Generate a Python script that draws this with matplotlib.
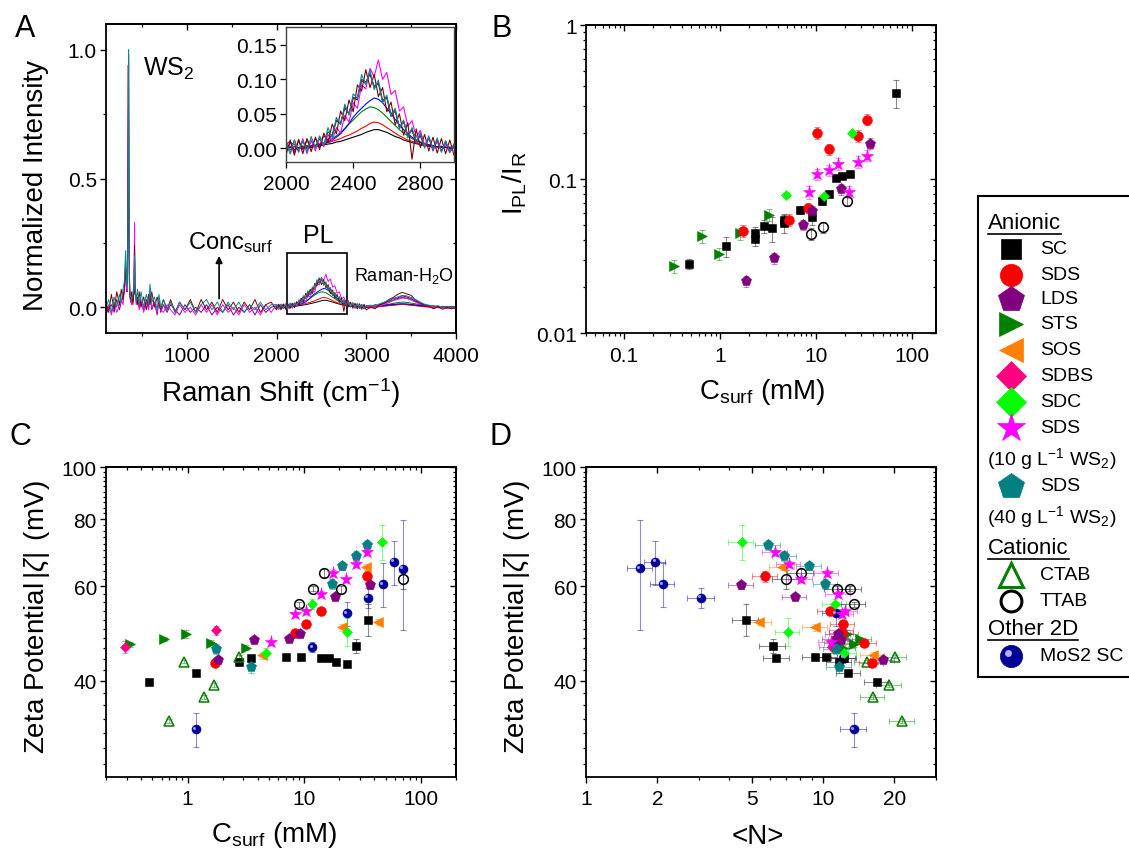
import numpy as np
import matplotlib
matplotlib.use('Agg')
import matplotlib.pyplot as plt
from matplotlib.ticker import FixedLocator, FuncFormatter, NullFormatter
from matplotlib.patches import Rectangle
from matplotlib.transforms import ScaledTranslation

plt.rcParams['font.family'] = ['Liberation Sans', 'DejaVu Sans']
plt.rcParams['mathtext.fontset'] = 'custom'
plt.rcParams['mathtext.rm'] = 'Liberation Sans'
plt.rcParams['mathtext.it'] = 'Liberation Sans:italic'
plt.rcParams['mathtext.bf'] = 'Liberation Sans:bold'

# ---------------- PANEL A : Raman spectra ----------------
shift_low = [100, 130, 160, 190, 220, 250, 270, 290, 305, 318, 326, 334, 342, 348, 352, 356, 360, 366, 374, 386,
             400, 412, 418, 424, 436, 450, 470, 490, 520, 550, 575, 590, 610, 640, 670, 690, 710, 740, 780, 820,
             870, 920, 980, 1040, 1100, 1160, 1220, 1280, 1340, 1400, 1460, 1520, 1580, 1640, 1700, 1760, 1820, 1880, 1940]
shift_pl = list(range(2000, 3001, 25))
shift_h2o = list(range(3050, 4001, 50))

teal_low = [0.00, 0.03, -0.02, 0.04, 0.00, 0.05, 0.02, 0.07, 0.10, 0.22, 0.12, 0.08, 0.20, 0.60, 1.00, 0.55, 0.15, 0.06, 0.04, 0.03,
            0.05, 0.08, 0.20, 0.07, 0.02, 0.07, 0.01, 0.06, 0.00, 0.05, 0.01, 0.09, 0.02, 0.04, -0.01, 0.05, 0.00, 0.03, -0.01, 0.02,
            -0.02, 0.02, -0.01, 0.02, -0.02, 0.01, 0.03, -0.01, 0.02, -0.02, 0.02, -0.01, 0.02, -0.02, 0.01, -0.01, 0.02, -0.01, 0.01]
darkred_low = [0.02, -0.02, 0.05, -0.01, 0.06, 0.01, 0.07, 0.03, 0.08, 0.15, 0.10, 0.09, 0.30, 0.94, 0.70, 0.30, 0.10, 0.05, 0.03, 0.06,
               0.01, 0.06, 0.24, 0.05, 0.05, 0.01, 0.06, 0.00, 0.04, -0.01, 0.05, 0.01, 0.06, 0.00, 0.04, 0.01, -0.01, 0.03, -0.01, 0.03,
               -0.02, 0.02, -0.01, 0.03, -0.02, 0.03, -0.01, 0.02, -0.02, 0.03, -0.01, 0.02, -0.02, 0.02, -0.01, 0.03, -0.02, 0.01, 0.02]
magenta_low = [-0.02, 0.01, -0.03, 0.02, -0.02, 0.01, 0.03, 0.01, 0.07, 0.12, 0.09, 0.07, 0.25, 0.85, 0.95, 0.40, 0.12, 0.04, 0.03, 0.01,
               0.05, 0.10, 0.33, 0.08, 0.01, 0.03, -0.01, 0.03, -0.02, 0.02, -0.01, 0.05, 0.00, 0.02, -0.02, 0.02, -0.01, -0.02, 0.01, -0.01,
               -0.03, 0.01, -0.02, 0.00, -0.03, 0.01, -0.02, 0.01, -0.03, 0.01, -0.02, 0.00, -0.03, 0.01, -0.02, 0.00, -0.03, 0.01, -0.02]
purple_low = [-0.03, 0.00, 0.01, -0.02, 0.03, -0.01, 0.02, 0.04, 0.06, 0.18, 0.08, 0.06, 0.22, 0.70, 0.98, 0.50, 0.14, 0.05, 0.02, 0.03,
              0.02, 0.07, 0.22, 0.06, 0.03, 0.04, 0.00, 0.02, -0.01, 0.03, 0.00, 0.06, -0.01, 0.02, -0.03, 0.03, -0.02, 0.01, -0.02, 0.01,
              -0.01, -0.03, 0.01, -0.02, 0.00, -0.02, 0.01, -0.03, 0.00, -0.02, 0.01, -0.03, 0.00, -0.02, 0.01, -0.03, 0.01, -0.02, 0.00]

teal_pl = [0.010, -0.008, 0.012, -0.005, 0.012, -0.006, 0.017, 0.000, 0.018, 0.004, 0.030, 0.015, 0.045, 0.034, 0.064,
           0.048, 0.079, 0.072, 0.107, 0.092, 0.114, 0.085, 0.099, 0.066, 0.077, 0.047, 0.058, 0.028, 0.041, 0.015,
           0.030, 0.008, 0.023, 0.000, 0.018, -0.002, 0.015, -0.006, 0.011, -0.006, 0.006]
darkred_pl = [-0.010, 0.012, -0.010, 0.013, -0.008, 0.014, -0.005, 0.016, -0.002, 0.022, 0.008, 0.035, 0.021, 0.054, 0.040,
              0.070, 0.053, 0.092, 0.083, 0.114, 0.088, 0.107, 0.075, 0.088, 0.053, 0.067, 0.034, 0.050, 0.019, 0.037,
              -0.016, 0.028, 0.001, 0.020, -0.004, 0.016, -0.007, 0.014, -0.008, 0.012, -0.010]
purple_pl = [0.006, 0.010, -0.006, 0.011, -0.002, 0.012, 0.001, 0.014, 0.004, 0.018, 0.012, 0.020, 0.041, 0.036, 0.060,
             0.050, 0.074, 0.070, 0.100, 0.096, 0.108, 0.090, 0.095, 0.070, 0.073, 0.050, 0.055, 0.030, 0.040, 0.018,
             0.028, 0.006, 0.020, 0.002, 0.016, -0.004, 0.013, -0.004, 0.010, -0.006, 0.006]
gray_pl = [-0.006, 0.008, 0.006, -0.004, 0.010, 0.000, 0.011, 0.002, 0.014, 0.004, 0.024, 0.018, 0.040, 0.036, 0.058,
           0.050, 0.072, 0.074, 0.098, 0.094, 0.108, 0.088, 0.094, 0.068, 0.074, 0.046, 0.054, 0.030, 0.038, 0.018,
           0.026, 0.010, 0.018, 0.002, 0.014, 0.000, 0.010, -0.004, 0.008, -0.004, 0.004]
magenta_pl = [0.010, -0.008, 0.012, -0.006, 0.014, -0.008, 0.012, -0.004, 0.016, 0.002, 0.020, 0.010, 0.030, 0.022, 0.048,
              0.038, 0.066, 0.058, 0.092, 0.086, 0.116, 0.104, 0.128, 0.100, 0.110, 0.078, 0.084, 0.054, 0.060, 0.032,
              0.040, 0.016, 0.026, 0.004, 0.016, -0.002, 0.010, -0.004, 0.006, -0.006, 0.004]
blue_pl = [0.000, 0.002, -0.002, 0.001, 0.000, 0.002, 0.001, 0.003, 0.004, 0.006, 0.009, 0.012, 0.016, 0.021, 0.028,
           0.036, 0.045, 0.052, 0.058, 0.064, 0.069, 0.073, 0.071, 0.066, 0.058, 0.050, 0.042, 0.034, 0.027, 0.021,
           0.016, 0.012, 0.009, 0.007, 0.005, 0.004, 0.002, 0.002, 0.001, 0.000, 0.001]
red_pl = [0.002, -0.002, 0.003, 0.000, 0.002, 0.004, 0.001, 0.005, 0.004, 0.007, 0.008, 0.010, 0.012, 0.014, 0.017,
          0.019, 0.022, 0.025, 0.029, 0.032, 0.036, 0.038, 0.037, 0.034, 0.030, 0.026, 0.022, 0.018, 0.015, 0.012,
          0.010, 0.008, 0.006, 0.005, 0.004, 0.003, 0.002, 0.003, 0.001, 0.002, 0.000]
black_pl = [0.000, 0.002, -0.002, 0.001, 0.003, 0.000, 0.002, 0.004, 0.003, 0.005, 0.006, 0.007, 0.009, 0.010, 0.012,
            0.014, 0.016, 0.018, 0.020, 0.023, 0.025, 0.027, 0.027, 0.025, 0.023, 0.020, 0.017, 0.015, 0.012, 0.010,
            0.008, 0.007, 0.005, 0.004, 0.003, 0.003, 0.002, 0.001, 0.002, 0.000, 0.001]
green_pl = [0.001, -0.002, 0.002, 0.000, 0.003, 0.001, 0.004, 0.003, 0.006, 0.008, 0.011, 0.014, 0.018, 0.023, 0.029,
            0.035, 0.041, 0.047, 0.053, 0.057, 0.060, 0.059, 0.056, 0.051, 0.045, 0.039, 0.033, 0.027, 0.022, 0.018,
            0.014, 0.011, 0.008, 0.006, 0.005, 0.003, 0.002, 0.002, 0.001, 0.000, 0.001]

teal_h2o = [0.008, 0.004, 0.014, 0.020, 0.028, 0.034, 0.040, 0.046, 0.044, 0.038, 0.030, 0.020, 0.012, 0.008, 0.004, 0.006, 0.000, 0.004, -0.002, 0.002]
darkred_h2o = [0.000, -0.006, 0.010, 0.016, 0.030, 0.038, 0.050, 0.058, 0.052, 0.046, 0.028, 0.018, 0.006, 0.004, -0.006, 0.002, -0.008, 0.000, -0.006, -0.002]
purple_h2o = [0.004, 0.010, 0.008, 0.018, 0.024, 0.034, 0.036, 0.044, 0.040, 0.034, 0.024, 0.016, 0.010, 0.004, 0.006, -0.002, 0.004, -0.004, 0.002, 0.000]
magenta_h2o = [0.000, 0.006, 0.004, 0.012, 0.018, 0.026, 0.030, 0.036, 0.034, 0.028, 0.020, 0.012, 0.008, 0.002, 0.004, -0.002, 0.002, -0.004, 0.000, 0.002]
gray_h2o = [0.004, 0.002, 0.010, 0.014, 0.022, 0.028, 0.034, 0.038, 0.036, 0.030, 0.022, 0.014, 0.008, 0.004, 0.002, 0.002, 0.000, 0.000, -0.002, 0.000]
blue_h2o = [0.002, 0.003, 0.005, 0.007, 0.009, 0.011, 0.013, 0.014, 0.013, 0.011, 0.009, 0.007, 0.005, 0.004, 0.003, 0.002, 0.001, 0.001, 0.000, 0.000]
red_h2o = [-0.002, 0.000, 0.002, 0.004, 0.006, 0.008, 0.010, 0.011, 0.010, 0.008, 0.006, 0.004, 0.002, 0.000, -0.002, -0.001, -0.003, -0.002, -0.004, -0.003]
black_h2o = [0.002, 0.003, 0.004, 0.006, 0.008, 0.009, 0.010, 0.011, 0.010, 0.009, 0.007, 0.005, 0.004, 0.003, 0.002, 0.001, 0.001, 0.000, 0.000, 0.000]
green_h2o = [0.002, 0.004, 0.006, 0.009, 0.012, 0.015, 0.018, 0.020, 0.019, 0.016, 0.013, 0.010, 0.007, 0.005, 0.003, 0.002, 0.001, 0.000, 0.001, 0.000]

# ---------------- PANEL B : I_PL / I_R vs C_surf ----------------
b_sc_x = [0.47, 1.17, 2.31, 2.31, 2.91, 3.52, 4.65, 4.65, 6.93, 9.23, 11.5, 13.9, 16.3, 18.6, 22.9, 68.2]
b_sc_y = [0.0282, 0.0367, 0.0445, 0.0405, 0.0493, 0.0478, 0.0544, 0.0515, 0.063, 0.0564, 0.0716, 0.0799, 0.1015, 0.1046, 0.108, 0.364]
b_sc_e = [0.002, 0.0055, 0.004, 0.004, 0.005, 0.009, 0.005, 0.007, 0.004, 0.006, 0.004, 0.004, 0.004, 0.004, 0.004, 0.075]
b_sds_x = [1.75, 5.2, 8.39, 10.4, 13.7, 27.5, 34.4]
b_sds_y = [0.046, 0.0544, 0.0652, 0.20, 0.157, 0.190, 0.243]
b_sds_e = [0.004, 0.005, 0.005, 0.017, 0.013, 0.017, 0.02]
b_lds_x = [1.86, 3.69, 7.33, 9.23, 18.3, 36.6]
b_lds_y = [0.0218, 0.0307, 0.0505, 0.0617, 0.0857, 0.17]
b_lds_e = [0.0018, 0.0025, 0.004, 0.005, 0.007, 0.014]
b_sts_x = [0.328, 0.65, 0.97, 1.63, 3.25]
b_sts_y = [0.0271, 0.0425, 0.0327, 0.0444, 0.0584]
b_sts_e = [0.0025, 0.004, 0.003, 0.004, 0.005]
b_sdc_x = [4.84, 12.1, 24.0]
b_sdc_y = [0.079, 0.0776, 0.199]
b_sdc_e = [0.002, 0.002, 0.004]
b_sds10_x = [8.46, 10.4, 13.7, 17.2, 22.4, 27.5, 34.4]
b_sds10_y = [0.0823, 0.107, 0.114, 0.126, 0.0827, 0.129, 0.142]
b_sds10_e = [0.008, 0.009, 0.01, 0.011, 0.007, 0.011, 0.012]
b_ttab_x = [8.95, 11.8, 21.0]
b_ttab_y = [0.044, 0.0488, 0.0716]
b_ttab_e = [0.004, 0.004, 0.005]

# ---------------- PANEL C : zeta vs C_surf ----------------
c_sc_x = [0.47, 1.17, 2.77, 3.51, 6.94, 9.33, 13.8, 16.2, 18.6, 23.1, 28.0, 35.0]
c_sc_y = [39.8, 41.4, 43.3, 44.1, 44.4, 44.4, 44.1, 44.1, 43.4, 43.0, 46.4, 52.0]
c_sc_e = [0.3, 0.3, 0.3, 0.3, 0.3, 0.3, 0.3, 0.3, 0.3, 0.4, 1.4, 3.5]
c_sds_x = [1.73, 8.29, 10.4, 13.8, 34.7]
c_sds_y = [43.1, 49.2, 51.1, 53.9, 62.6]
c_sds_e = [0.5, 0.5, 0.5, 0.8, 1.5]
c_lds_x = [1.84, 3.72, 7.37, 9.21, 18.5, 36.6]
c_lds_y = [43.7, 47.7, 47.9, 49.0, 57.3, 60.2]
c_lds_e = [0.6, 0.5, 0.5, 0.5, 0.6, 0.8]
c_sts_x = [0.319, 0.63, 0.97, 1.60, 3.18]
c_sts_y = [46.8, 47.9, 48.9, 47.1, 46.1]
c_sts_e = [0.5, 0.4, 0.8, 0.5, 0.5]
c_sos_x = [4.36, 21.2, 33.8, 42.6]
c_sos_y = [44.6, 50.3, 65.2, 51.5]
c_sos_e = [0.6, 0.8, 0.8, 0.6]
c_sdbs_x = [0.289, 1.74]
c_sdbs_y = [46.2, 49.7]
c_sdbs_e = [1.2, 1.0]
c_sdc_x = [4.68, 11.7, 23.4, 46.7]
c_sdc_y = [45.0, 55.7, 49.4, 72.6]
c_sdc_e = [1.0, 1.2, 3.0, 5.5]
c_sds10_x = [5.17, 8.29, 10.3, 13.9, 17.5, 23.0, 27.8, 34.7]
c_sds10_y = [47.2, 53.2, 53.9, 58.1, 63.5, 61.8, 66.1, 69.4]
c_sds10_e = [0.5, 0.5, 0.5, 0.6, 0.7, 0.7, 0.8, 0.8]
c_sds40_x = [1.75, 3.51, 17.4, 20.9, 28.0, 34.7]
c_sds40_y = [45.8, 42.4, 60.6, 65.4, 68.3, 71.6]
c_sds40_e = [1.0, 1.0, 1.2, 1.2, 1.5, 1.5]
c_ctab_x = [0.70, 0.94, 1.39, 1.67, 2.75]
c_ctab_y = [33.7, 43.4, 37.3, 39.3, 44.4]
c_ctab_e = [0.3, 0.3, 0.3, 0.3, 0.3]
c_ttab_x = [9.03, 12.0, 14.8, 20.8, 69.7]
c_ttab_y = [55.5, 59.4, 63.5, 59.2, 61.8]
c_ttab_e = [0.6, 0.6, 1.2, 0.8, 2.5]
c_mos2_x = [1.17, 11.7, 23.3, 35.0, 47.0, 58.3, 69.7]
c_mos2_y = [32.5, 46.2, 53.4, 57.1, 60.5, 66.6, 64.7]
c_mos2_e = [2.4, 1.0, 2.7, 2.5, 5.7, 6.2, 15.0]

# ---------------- PANEL D : zeta vs <N> ----------------
d_mos2_n = [1.69, 1.96, 2.11, 3.06, 11.3, 12.2, 13.5]
d_mos2_y = [64.8, 66.6, 60.5, 57.1, 53.4, 44.2, 32.5]
d_mos2_ne = [0.2, 0.2, 0.25, 0.4, 1.4, 1.5, 1.7]
d_mos2_e = [15.0, 6.2, 5.7, 2.5, 2.7, 1.0, 2.4]
d_sc_n = [4.74, 6.14, 6.36, 9.25, 10.3, 12.3, 11.7, 12.8, 16.9]
d_sc_y = [52.0, 46.4, 44.1, 44.4, 44.4, 44.1, 43.3, 41.4, 39.8]
d_sc_ne = [0.6, 0.75, 0.8, 1.1, 1.2, 1.5, 1.4, 1.5, 2.0]
d_sc_e = [3.5, 1.4, 0.3, 0.3, 0.3, 0.3, 0.3, 0.3, 0.3]
d_sds_n = [5.71, 10.7, 12.1, 12.0, 14.9, 16.1]
d_sds_y = [62.6, 53.9, 51.1, 49.2, 47.0, 43.1]
d_sds_ne = [0.7, 1.3, 1.4, 1.4, 1.8, 1.9]
d_sds_e = [1.5, 0.8, 0.5, 0.5, 0.5, 0.5]
d_lds_n = [4.53, 7.62, 11.6, 11.3, 11.9, 17.9]
d_lds_y = [60.2, 57.3, 49.0, 47.9, 47.7, 43.7]
d_lds_ne = [0.55, 0.9, 1.4, 1.4, 1.4, 2.1]
d_lds_e = [0.8, 0.6, 0.5, 0.5, 0.5, 0.6]
d_sts_n = [14.3, 13.5, 12.6, 12.2, 11.5]
d_sts_y = [47.9, 46.8, 48.9, 46.1, 47.1]
d_sts_ne = [1.7, 1.6, 1.5, 1.5, 1.4]
d_sts_e = [0.4, 0.5, 0.8, 0.5, 0.5]
d_sos_n = [5.37, 6.72, 9.28, 16.2]
d_sos_y = [51.5, 65.2, 50.3, 44.6]
d_sos_ne = [0.65, 0.8, 1.1, 1.9]
d_sos_e = [0.6, 0.8, 0.8, 0.6]
d_sdbs_n = [10.9, 12.0]
d_sdbs_y = [46.2, 49.7]
d_sdbs_ne = [1.3, 1.4]
d_sdbs_e = [1.2, 1.0]
d_sdc_n = [4.54, 7.10, 11.2, 12.3]
d_sdc_y = [72.6, 49.4, 55.7, 45.0]
d_sdc_ne = [0.55, 0.85, 1.3, 1.5]
d_sdc_e = [5.5, 3.0, 1.2, 1.0]
d_sds10_n = [6.3, 7.19, 8.08, 10.4, 11.6, 12.4, 12.0, 10.8]
d_sds10_y = [69.4, 66.1, 61.8, 63.5, 58.1, 53.9, 53.2, 47.2]
d_sds10_ne = [0.75, 0.85, 0.95, 1.2, 1.4, 1.5, 1.4, 1.3]
d_sds10_e = [0.8, 0.8, 0.7, 0.7, 0.6, 0.5, 0.5, 0.5]
d_sds40_n = [5.88, 6.87, 8.76, 10.25, 11.4, 11.7]
d_sds40_y = [71.6, 68.3, 65.4, 60.6, 45.8, 42.4]
d_sds40_ne = [0.7, 0.8, 1.05, 1.2, 1.4, 1.4]
d_sds40_e = [1.5, 1.5, 1.2, 1.2, 1.0, 1.0]
d_ctab_n = [15.3, 20.1, 16.2, 19.0, 21.6]
d_ctab_y = [43.4, 44.4, 37.3, 39.3, 33.7]
d_ctab_ne = [1.8, 2.4, 1.9, 2.3, 2.6]
d_ctab_e = [0.3, 0.3, 0.3, 0.3, 0.3]
d_ttab_n = [6.96, 8.05, 11.5, 12.96, 13.5]
d_ttab_y = [61.8, 63.5, 59.2, 59.4, 55.5]
d_ttab_ne = [0.85, 1.0, 1.4, 1.55, 1.6]
d_ttab_e = [2.5, 1.2, 0.8, 0.6, 0.6]

# marker styles (panel size, legend size)
STYLE = {
    'SC':    dict(marker='s', color='#000000', mfc='#000000', ms=6, lms=14),
    'SDS':   dict(marker='o', color='#FF0000', mfc='#FF0000', ms=7, lms=16),
    'LDS':   dict(marker='p', color='#800080', mfc='#800080', ms=8, lms=19),
    'STS':   dict(marker='>', color='#008000', mfc='#008000', ms=7, lms=17),
    'SOS':   dict(marker='<', color='#FF8000', mfc='#FF8000', ms=7, lms=17),
    'SDBS':  dict(marker='D', color='#FF0080', mfc='#FF0080', ms=5.5, lms=15),
    'SDC':   dict(marker='D', color='#00FF00', mfc='#00FF00', ms=5.5, lms=15),
    'SDS10': dict(marker='*', color='#FF00FF', mfc='#FF00FF', ms=9.5, lms=21),
    'SDS40': dict(marker='p', color='#008080', mfc='#008080', ms=8, lms=19),
    'CTAB':  dict(marker='^', color='#008000', mfc='none', ms=7, lms=17),
    'TTAB':  dict(marker='o', color='#000000', mfc='none', ms=7, lms=15),
    'MoS2':  dict(marker='o', color='#000099', mfc='#000099', ms=6.5, lms=16),
}

W, H = 1129, 854
fig = plt.figure(figsize=(W / 100, H / 100), dpi=100)


def px_axes(l, t, r, b):
    return fig.add_axes([l / W, 1 - b / H, (r - l) / W, (b - t) / H])


def style_axes(ax, xmaj, xmin, ymaj, ymin, fmt_x, fmt_y):
    ax.xaxis.set_major_locator(FixedLocator(xmaj))
    ax.xaxis.set_minor_locator(FixedLocator(xmin))
    ax.yaxis.set_major_locator(FixedLocator(ymaj))
    ax.yaxis.set_minor_locator(FixedLocator(ymin))
    ax.xaxis.set_major_formatter(FuncFormatter(fmt_x))
    ax.yaxis.set_major_formatter(FuncFormatter(fmt_y))
    ax.xaxis.set_minor_formatter(NullFormatter())
    ax.yaxis.set_minor_formatter(NullFormatter())
    ax.tick_params(which='major', direction='out', length=4, width=1.0, labelsize=15)
    ax.tick_params(which='minor', direction='out', length=2.5, width=0.9)
    ax.tick_params(axis='x', which='major', pad=5)
    ax.tick_params(axis='y', which='major', pad=2.5)
    for s in ax.spines.values():
        s.set_linewidth(1.3)
    # inward mirror ticks on top / right
    top = ax.secondary_xaxis('top')
    top.xaxis.set_major_locator(FixedLocator(xmaj))
    top.xaxis.set_minor_locator(FixedLocator(xmin))
    top.tick_params(which='major', direction='in', length=4, width=1.0, labeltop=False)
    top.tick_params(which='minor', direction='in', length=2.5, width=0.9)
    top.xaxis.set_minor_formatter(NullFormatter())
    top.spines['top'].set_linewidth(1.3)
    right = ax.secondary_yaxis('right')
    right.yaxis.set_major_locator(FixedLocator(ymaj))
    right.yaxis.set_minor_locator(FixedLocator(ymin))
    right.tick_params(which='major', direction='in', length=4, width=1.0, labelright=False)
    right.tick_params(which='minor', direction='in', length=2.5, width=0.9)
    right.yaxis.set_minor_formatter(NullFormatter())
    right.spines['right'].set_linewidth(1.3)


def draw(ax, key, x, y, yerr, xerr=None):
    s = STYLE[key]
    ax.errorbar(x, y, yerr=yerr, xerr=xerr, fmt='none', ecolor=s['color'], elinewidth=0.8,
                capsize=2.2, capthick=0.8, alpha=0.45, zorder=2)
    ax.plot(x, y, ls='none', marker=s['marker'], ms=s['ms'], mfc=s['mfc'], mec=s['color'],
            mew=1.1 if s['mfc'] == 'none' else 0.4, zorder=3)
    if key == 'MoS2':
        hl = ax.transData + ScaledTranslation(-1.2 / 72, 1.2 / 72, fig.dpi_scale_trans)
        ax.plot(x, y, ls='none', marker='o', ms=2.2, mfc='#9a9aff', mec='none', transform=hl, zorder=4)


gfmt = lambda v, p: '%g' % v
decades = lambda lo, hi: [m * 10.0 ** e for e in range(lo, hi) for m in range(2, 10)]
zeta_minor = [v for v in range(28, 100, 2) if v % 20]

# ================= A =================
axA = px_axes(106, 25, 456, 334)
spectra = [
    ('#008000', None, green_pl, green_h2o),
    ('#000000', None, black_pl, black_h2o),
    ('#FF0000', None, red_pl, red_h2o),
    ('#0000FF', None, blue_pl, blue_h2o),
    ('#404040', None, gray_pl, gray_h2o),
    ('#800080', purple_low, purple_pl, purple_h2o),
    ('#FF00FF', magenta_low, magenta_pl, magenta_h2o),
    ('#800000', darkred_low, darkred_pl, darkred_h2o),
    ('#008B8B', teal_low, teal_pl, teal_h2o),
]
for col, lo, pl, h2o in spectra:
    if lo is None:
        xs = np.concatenate([shift_pl, shift_h2o])
        ys = np.concatenate([pl, h2o])
    else:
        xs = np.concatenate([shift_low, shift_pl, shift_h2o])
        ys = np.concatenate([lo, pl, h2o])
    axA.plot(xs, ys, color=col, lw=0.7)
axA.set_xlim(100, 4000)
axA.set_ylim(-0.1, 1.1)
style_axes(axA, [1000, 2000, 3000, 4000], [500, 1500, 2500, 3500], [0, 0.5, 1.0], [0.25, 0.75],
           lambda v, p: '%d' % v, lambda v, p: '%.1f' % v)
axA.set_xlabel('Raman Shift (cm$^{-1}$)', fontsize=20, va='center')
axA.xaxis.set_label_coords(0.5, -0.191)
axA.set_ylabel('Normalized Intensity', fontsize=20, va='center')
axA.yaxis.set_label_coords(-0.2, 0.482)
axA.text(512, 0.93, 'WS$_2$', fontsize=18, ha='left', va='center')
axA.text(1010, 0.257, 'Conc$_{\\mathrm{surf}}$', fontsize=17, ha='left', va='center')
axA.annotate('', xy=(1360, 0.21), xytext=(1360, 0.023),
             arrowprops=dict(arrowstyle='-|>', color='black', lw=1.2, mutation_scale=10))
axA.text(2465, 0.282, 'PL', fontsize=18, ha='center', va='center')
axA.add_patch(Rectangle((2120, -0.026), 668, 0.237, fill=False, lw=1.2, ec='black'))
axA.text(2863, 0.127, 'Raman-H$_2$O', fontsize=13, ha='left', va='center')

axI = px_axes(286, 28, 454, 163)
for col, lo, pl, h2o in spectra:
    axI.plot(shift_pl, pl, color=col, lw=0.8)
axI.set_xlim(2000, 3000)
axI.set_ylim(-0.02, 0.176)
axI.set_xticks([2000, 2400, 2800])
axI.set_yticks([0.0, 0.05, 0.10, 0.15])
axI.yaxis.set_major_formatter(FuncFormatter(lambda v, p: '%.2f' % v))
axI.tick_params(direction='out', length=4, width=0.9, labelsize=15)
axI.tick_params(axis='x', pad=5)
axI.tick_params(axis='y', pad=2.5)
for s in axI.spines.values():
    s.set_linewidth(1.0)
    s.set_color('#444444')

# ================= B =================
axB = px_axes(586, 26, 936, 334)
axB.set_xscale('log')
axB.set_yscale('log')
draw(axB, 'STS', b_sts_x, b_sts_y, b_sts_e)
draw(axB, 'SC', b_sc_x, b_sc_y, b_sc_e)
draw(axB, 'SDS', b_sds_x, b_sds_y, b_sds_e)
draw(axB, 'LDS', b_lds_x, b_lds_y, b_lds_e)
draw(axB, 'SDC', b_sdc_x, b_sdc_y, b_sdc_e)
draw(axB, 'SDS10', b_sds10_x, b_sds10_y, b_sds10_e)
draw(axB, 'TTAB', b_ttab_x, b_ttab_y, b_ttab_e)
axB.set_xlim(0.04, 180)
axB.set_ylim(0.01, 1)
style_axes(axB, [0.1, 1, 10, 100], decades(-2, 3), [0.01, 0.1, 1], decades(-2, 0), gfmt, gfmt)
axB.set_xlabel('C$_{\\mathrm{surf}}$ (mM)', fontsize=20, va='center')
axB.xaxis.set_label_coords(0.503, -0.188)
axB.set_ylabel('I$_{\\mathrm{PL}}$/I$_{\\mathrm{R}}$', fontsize=20, va='center')
axB.yaxis.set_label_coords(-0.203, 0.49)

zlabel = 'Zeta Potential$\\,|\\zeta|\\,$ (mV)'

# ================= C =================
axC = px_axes(106, 468, 456, 778)
axC.set_xscale('log')
axC.set_yscale('log')
draw(axC, 'SC', c_sc_x, c_sc_y, c_sc_e)
draw(axC, 'STS', c_sts_x, c_sts_y, c_sts_e)
draw(axC, 'SDBS', c_sdbs_x, c_sdbs_y, c_sdbs_e)
draw(axC, 'CTAB', c_ctab_x, c_ctab_y, c_ctab_e)
draw(axC, 'MoS2', c_mos2_x, c_mos2_y, c_mos2_e)
draw(axC, 'SOS', c_sos_x, c_sos_y, c_sos_e)
draw(axC, 'SDS', c_sds_x, c_sds_y, c_sds_e)
draw(axC, 'LDS', c_lds_x, c_lds_y, c_lds_e)
draw(axC, 'SDC', c_sdc_x, c_sdc_y, c_sdc_e)
draw(axC, 'SDS40', c_sds40_x, c_sds40_y, c_sds40_e)
draw(axC, 'TTAB', c_ttab_x, c_ttab_y, c_ttab_e)
draw(axC, 'SDS10', c_sds10_x, c_sds10_y, c_sds10_e)
axC.set_xlim(0.2, 200)
axC.set_ylim(26.5, 100)
style_axes(axC, [1, 10, 100], decades(-1, 3), [40, 60, 80, 100], zeta_minor, gfmt, gfmt)
axC.set_xlabel('C$_{\\mathrm{surf}}$ (mM)', fontsize=20, va='center')
axC.xaxis.set_label_coords(0.48, -0.185)
axC.set_ylabel(zlabel, fontsize=20, va='center')
axC.yaxis.set_label_coords(-0.197, 0.52)

# ================= D =================
axD = px_axes(586, 468, 936, 778)
axD.set_xscale('log')
axD.set_yscale('log')
draw(axD, 'MoS2', d_mos2_n, d_mos2_y, d_mos2_e, d_mos2_ne)
draw(axD, 'SC', d_sc_n, d_sc_y, d_sc_e, d_sc_ne)
draw(axD, 'CTAB', d_ctab_n, d_ctab_y, d_ctab_e, d_ctab_ne)
draw(axD, 'SOS', d_sos_n, d_sos_y, d_sos_e, d_sos_ne)
draw(axD, 'STS', d_sts_n, d_sts_y, d_sts_e, d_sts_ne)
draw(axD, 'SDBS', d_sdbs_n, d_sdbs_y, d_sdbs_e, d_sdbs_ne)
draw(axD, 'SDS', d_sds_n, d_sds_y, d_sds_e, d_sds_ne)
draw(axD, 'LDS', d_lds_n, d_lds_y, d_lds_e, d_lds_ne)
draw(axD, 'SDC', d_sdc_n, d_sdc_y, d_sdc_e, d_sdc_ne)
draw(axD, 'SDS40', d_sds40_n, d_sds40_y, d_sds40_e, d_sds40_ne)
draw(axD, 'TTAB', d_ttab_n, d_ttab_y, d_ttab_e, d_ttab_ne)
draw(axD, 'SDS10', d_sds10_n, d_sds10_y, d_sds10_e, d_sds10_ne)
axD.set_xlim(1, 30)
axD.set_ylim(26.5, 100)
style_axes(axD, [1, 2, 5, 10, 20], [3, 4, 6, 7, 8, 9, 30], [40, 60, 80, 100], zeta_minor, gfmt, gfmt)
axD.set_xlabel('<N>', fontsize=20, va='center')
axD.xaxis.set_label_coords(0.49, -0.19)
axD.set_ylabel(zlabel, fontsize=20, va='center')
axD.yaxis.set_label_coords(-0.197, 0.52)

# panel letters
for lab, x, y in [('A', 25, 29), ('B', 502, 29), ('C', 20, 437), ('D', 500, 437)]:
    fig.text(x / W, 1 - y / H, lab, fontsize=22, ha='center', va='center')

# ================= legend =================
leg = px_axes(978, 197, 1140, 678)
leg.set_xlim(978, 1140)
leg.set_ylim(678, 197)
leg.set_xticks([])
leg.set_yticks([])
for s in leg.spines.values():
    s.set_linewidth(1.5)

leg_rows = [(250, 'SC', 'SC'), (276, 'SDS', 'SDS'), (300, 'LDS', 'LDS'), (325, 'STS', 'STS'),
            (351, 'SOS', 'SOS'), (377, 'SDBS', 'SDBS'), (403, 'SDC', 'SDC'), (429, 'SDS10', 'SDS'),
            (487, 'SDS40', 'SDS'), (576, 'CTAB', 'CTAB'), (602, 'TTAB', 'TTAB'), (657, 'MoS2', 'MoS2 SC')]
leg_heads = [(224, 'Anionic'), (549, 'Cationic'), (630, 'Other 2D')]
leg_notes = [(459, '(10 g L$^{-1}$ WS$_2$)'), (517, '(40 g L$^{-1}$ WS$_2$)')]

for y, key, lab in leg_rows:
    s = STYLE[key]
    leg.plot([1011], [y], ls='none', marker=s['marker'], ms=s['lms'], mfc=s['mfc'], mec=s['color'],
             mew=2.2 if s['mfc'] == 'none' else 0.5, clip_on=False)
    if key == 'MoS2':
        leg.plot([1008], [y - 3], ls='none', marker='o', ms=5, mfc='#b0b0ff', mec='none', clip_on=False)
    leg.text(1040, y, lab, fontsize=14, ha='left', va='center')
for y, lab in leg_notes:
    leg.text(987, y, lab, fontsize=14, ha='left', va='center')
renderer = fig.canvas.get_renderer()
for y, lab in leg_heads:
    t = leg.text(988, y, lab, fontsize=16, ha='left', va='center')
    bb = t.get_window_extent(renderer=renderer).transformed(leg.transData.inverted())
    leg.plot([bb.x0, bb.x1], [y + 11, y + 11], color='black', lw=1.2)

fig.savefig('out.png', dpi=100)
